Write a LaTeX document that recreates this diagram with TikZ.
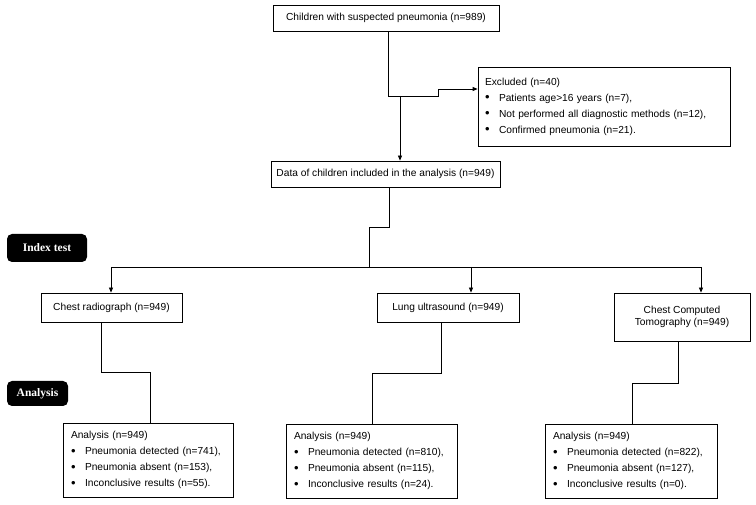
\documentclass[tikz,border=0pt]{standalone}
\usepackage{fontspec}
\setmainfont{Liberation Sans}
\newfontfamily\labelfont{Liberation Serif}
\usetikzlibrary{arrows.meta}
\begin{document}
\begin{tikzpicture}[x=1pt,y=-1pt,
  box/.style={draw=black, line width=0.8pt, inner sep=0pt, align=center,
    font=\fontsize{10.2}{12}\selectfont},
  listbox/.style={draw=black, line width=0.8pt, inner ysep=0pt, align=left,
    font=\fontsize{10.2}{16}\selectfont},
  tag/.style={fill=black, text=white, rounded corners=5pt, inner sep=0pt,
    font=\labelfont\bfseries\fontsize{11.5}{13}\selectfont},
  conn/.style={line width=0.8pt},
  arr/.style={conn, -{Triangle[length=5pt,width=4pt]}}
]
\newcommand{\bul}{\makebox[14pt][l]{\raisebox{-0.4pt}{\fontsize{13}{13}\selectfont\textbullet}}}
\useasboundingbox (0,0) rectangle (756,505);

% boxes
\node[box, minimum width=226pt, minimum height=26pt] (top) at (386,18)
  {Children with suspected pneumonia (n=989)};
\node[listbox, text width=238pt, inner xsep=7pt, minimum height=79pt] (excl) at (604,106.5)
  {Excluded (n=40)\\
   \bul Patients age>16 years (n=7),\\
   \bul Not performed all diagnostic methods (n=12),\\
   \bul Confirmed pneumonia (n=21).};
\node[box, minimum width=229pt, minimum height=26pt] (data) at (385.5,174)
  {Data of children included in the analysis (n=949)};

\node[tag, minimum width=80pt, minimum height=28pt] (idx) at (47,248) {Index test};
\node[tag, minimum width=61pt, minimum height=25pt] (anl) at (37.5,393.5) {Analysis};

\node[box, minimum width=141pt, minimum height=29pt] (chest) at (111.5,307.5)
  {Chest radiograph (n=949)};
\node[box, minimum width=142pt, minimum height=29pt] (lung) at (448,307.5)
  {Lung ultrasound (n=949)};
\node[box, minimum width=136pt, minimum height=48pt] (ct) at (682,317)
  {Chest Computed\\Tomography (n=949)};

\node[listbox, text width=154pt, inner xsep=8pt, minimum height=74pt] (a1) at (148,460)
  {Analysis (n=949)\\
   \bul Pneumonia detected (n=741),\\
   \bul Pneumonia absent (n=153),\\
   \bul Inconclusive results (n=55).};
\node[listbox, text width=155pt, inner xsep=8pt, minimum height=74pt] (a2) at (371.5,461)
  {Analysis (n=949)\\
   \bul Pneumonia detected (n=810),\\
   \bul Pneumonia absent (n=115),\\
   \bul Inconclusive results (n=24).};
\node[listbox, text width=156pt, inner xsep=8pt, minimum height=74pt] (a3) at (631,461)
  {Analysis (n=949)\\
   \bul Pneumonia detected (n=822),\\
   \bul Pneumonia absent (n=127),\\
   \bul Inconclusive results (n=0).};

% connectors
\coordinate (j1) at (400,96);
\coordinate (hub) at (369,267);
\coordinate (hm) at (471,267);

\draw[arr] (top.south -| 388,0) |- (438,96) |- (excl.west |- 0,89);
\draw[arr] (j1) -- (data.north -| j1);
\draw[conn] (data.south -| 389,0) |- (369,227) -- (hub);
\draw[arr] (hub) -| (chest.north -| 111,0);
\draw[arr] (hub) -| (ct.north -| 701,0);
\draw[arr] (hm) -- (lung.north -| hm);

\draw[conn] (chest.south -| 101,0) |- (150,372) -- (a1.north -| 150,0);
\draw[conn] (lung.south -| 441,0) |- (372,373) -- (a2.north -| 372,0);
\draw[conn] (ct.south -| 678,0) |- (632,383) -- (a3.north -| 632,0);
\end{tikzpicture}
\end{document}
